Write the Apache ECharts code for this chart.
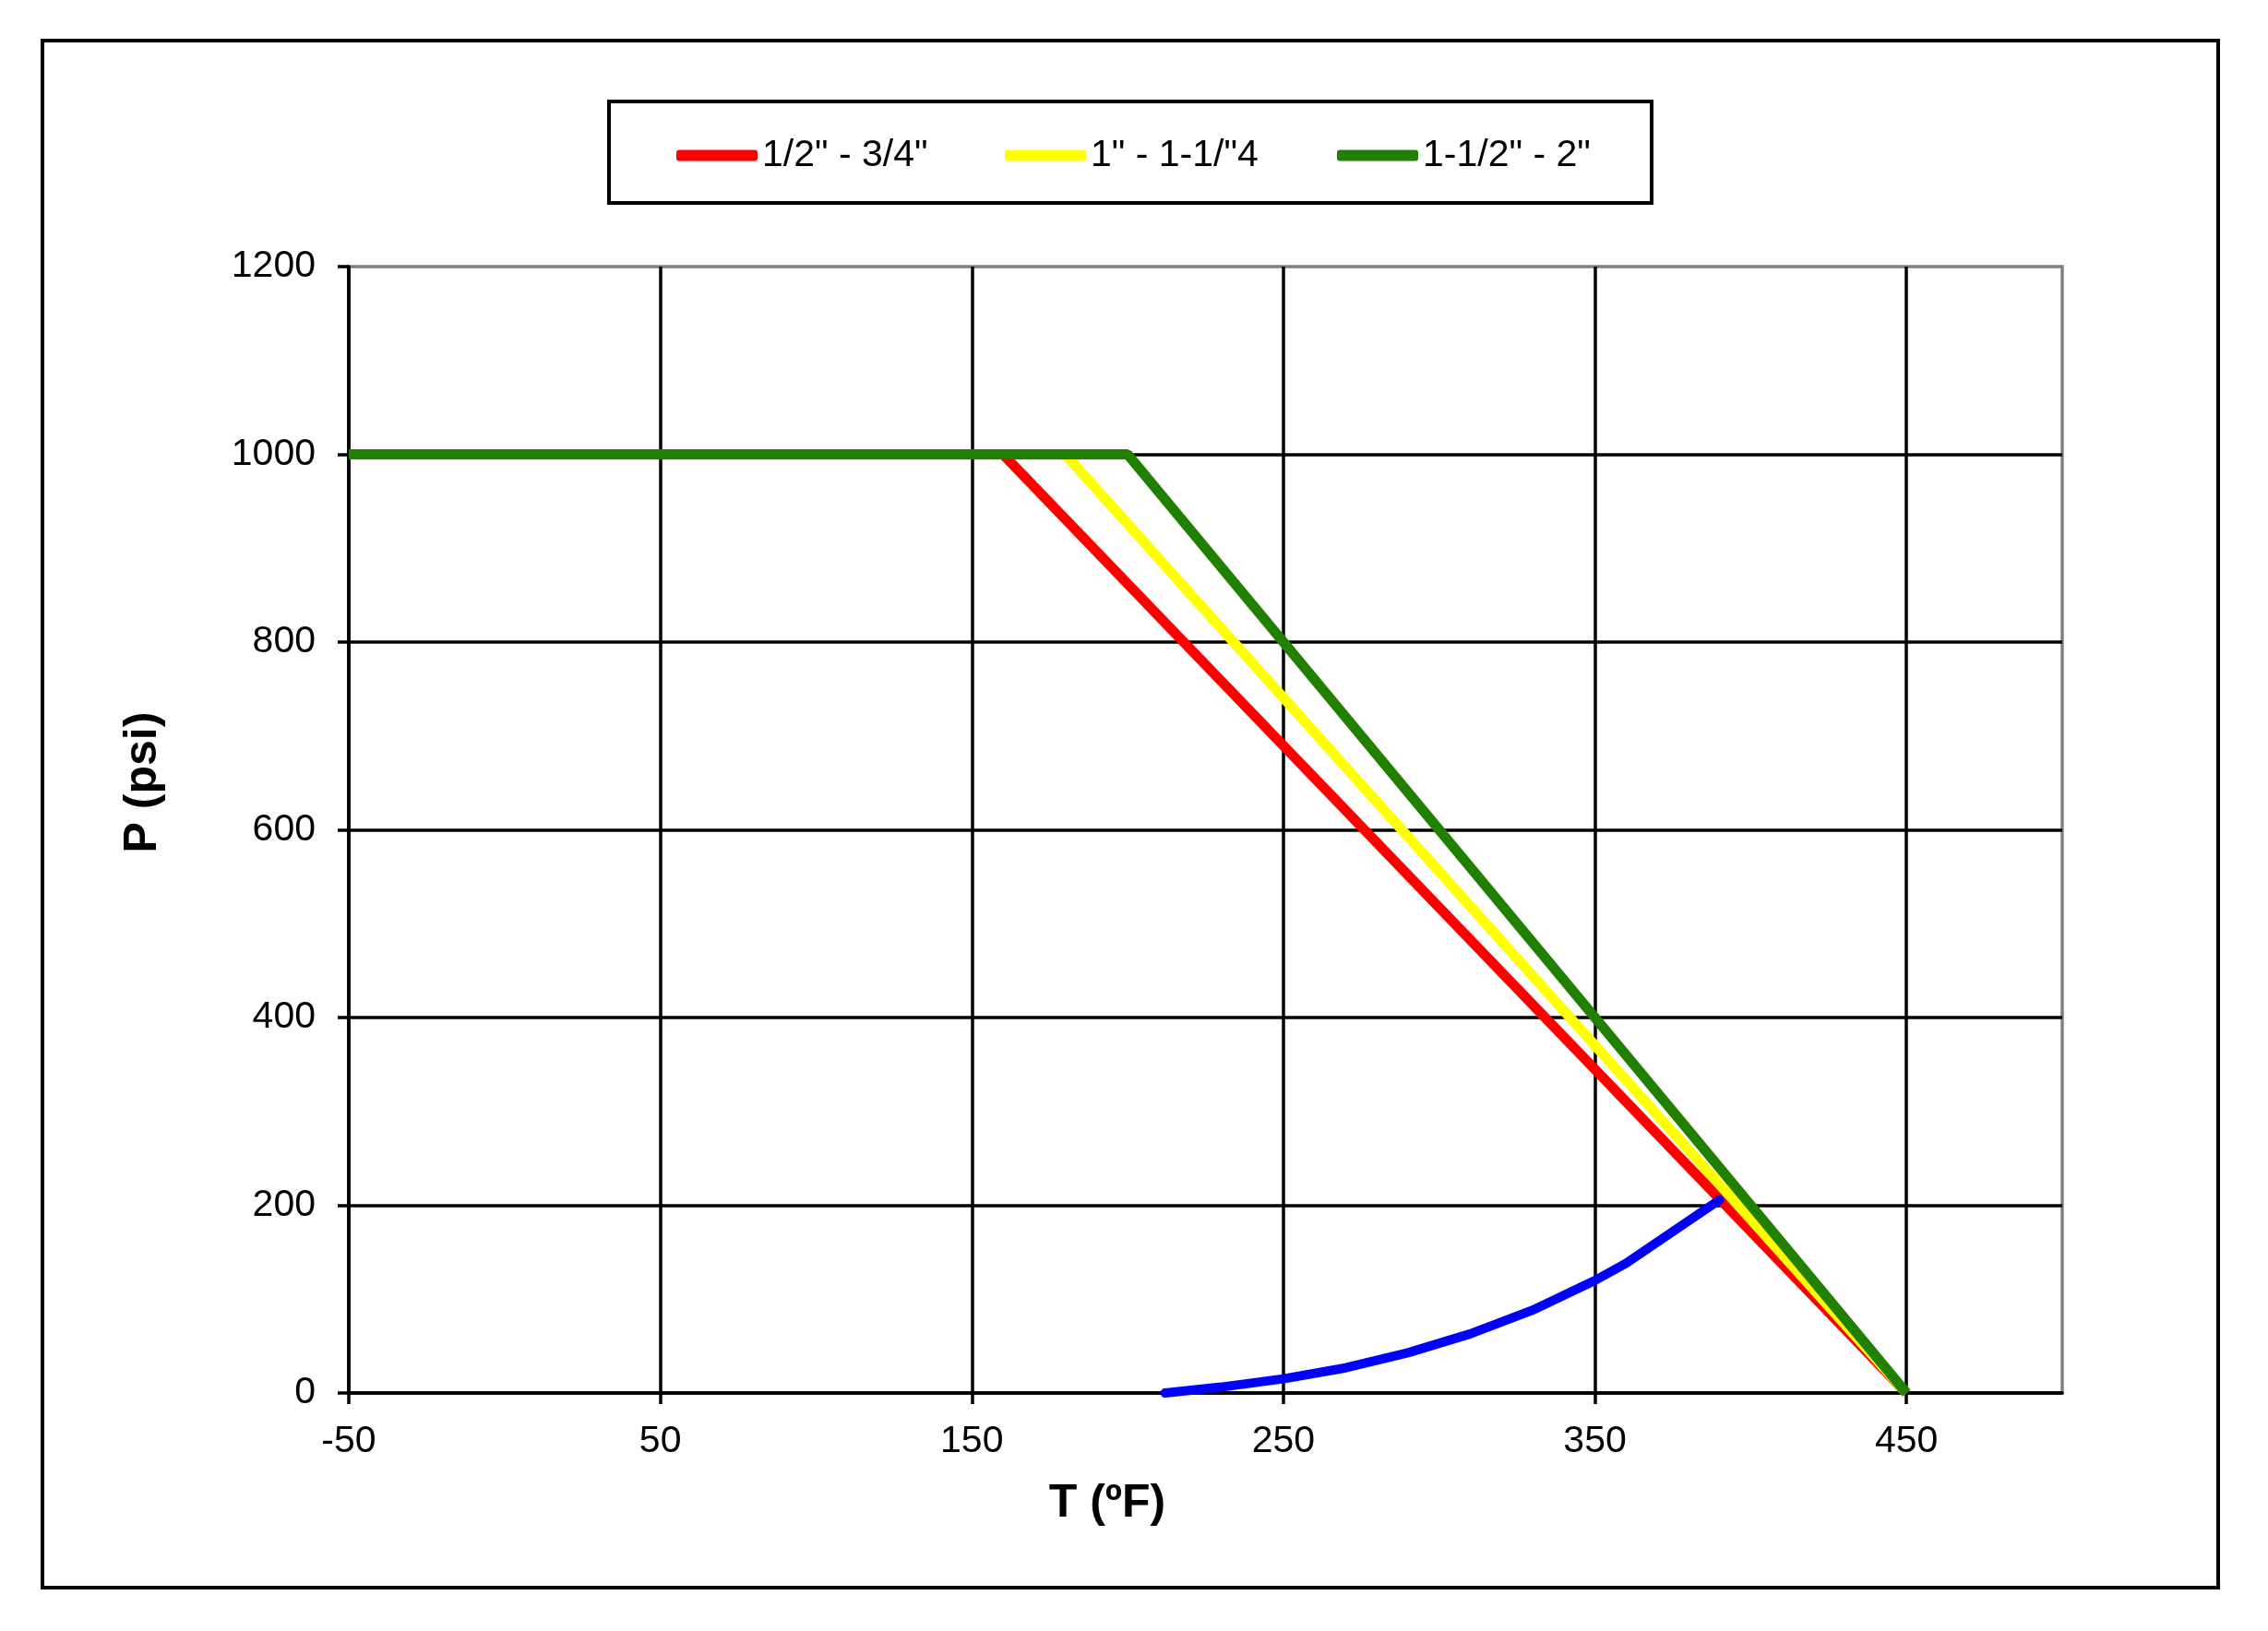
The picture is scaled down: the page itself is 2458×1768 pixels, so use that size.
<!DOCTYPE html>
<html>
<head>
<meta charset="utf-8">
<script src="https://cdn.jsdelivr.net/npm/echarts@6/dist/echarts.min.js"></script>
<style>
html,body{margin:0;padding:0;background:#fff;}
#chart{width:2458px;height:1768px;}
</style>
</head>
<body>
<div id="chart"></div>
<script>
// ---- data ----
const seriesNames = ['1/2" - 3/4"', '1" - 1-1/"4', '1-1/2" - 2"'];
const redT = [-50, 160, 450];
const redP = [1000, 1000, 0];
const yellowT = [-50, 180, 450];
const yellowP = [1000, 1000, 0];
const greenT = [-50, 200, 450];
const greenP = [1000, 1000, 0];
const blueT = [212, 230, 250, 270, 290, 310, 330, 350, 360, 390];
const blueP = [0, 6.3, 15.1, 26.8, 42.9, 63, 88.3, 119.9, 138.3, 205.7];
const xTicks = [-50, 50, 150, 250, 350, 450];
const yTicks = [0, 200, 400, 600, 800, 1000, 1200];
const xTitle = 'T (ºF)';
const yTitle = 'P (psi)';

function pairs(xs, ys) { return xs.map((x, i) => [x, ys[i]]); }

const chart = echarts.init(document.getElementById('chart'));
const font = '"Liberation Sans", Arial, sans-serif';

function legendAt(name, left) {
  return {
    data: [name],
    left: left,
    top: 143,
    orient: 'horizontal',
    icon: 'roundRect',
    itemWidth: 88,
    itemHeight: 12,
    itemGap: 0,
    selectedMode: false,
    textStyle: { fontFamily: font, fontSize: 41, color: '#000', padding: [0, 0, 0, 0] }
  };
}

const option = {
  backgroundColor: '#fff',
  animation: false,
  graphic: [
    { type: 'rect', shape: { x: 46, y: 44, width: 2358, height: 1677 }, style: { fill: 'none', stroke: '#000', lineWidth: 4 }, z: -1 },
    { type: 'rect', shape: { x: 660, y: 110, width: 1130, height: 110 }, style: { fill: '#fff', stroke: '#000', lineWidth: 4 }, z: -1 },
    { type: 'text', x: 1200, y: 1630, style: { text: xTitle, font: 'bold 50px "Liberation Sans", Arial, sans-serif', fill: '#000', align: 'center', verticalAlign: 'middle' } },
    { type: 'text', x: 155, y: 848, rotation: Math.PI / 2, style: { text: yTitle, font: 'bold 50px "Liberation Sans", Arial, sans-serif', fill: '#000', align: 'center', verticalAlign: 'middle' } }
  ],
  legend: [
    legendAt(seriesNames[0], 728),
    legendAt(seriesNames[1], 1084),
    legendAt(seriesNames[2], 1444)
  ],
  grid: {
    left: 378, right: 223, top: 289, bottom: 258,
    show: true, borderColor: '#808080', borderWidth: 3.5, backgroundColor: 'transparent'
  },
  xAxis: {
    type: 'value', min: -50, max: 500,
    axisLine: { show: true, onZero: false, lineStyle: { color: '#000', width: 3.5 } },
    axisTick: { show: true, length: 12, lineStyle: { color: '#000', width: 3.5 }, customValues: xTicks },
    axisLabel: { customValues: xTicks, fontFamily: font, fontSize: 41, color: '#000', margin: 32 },
    splitLine: { show: true, lineStyle: { color: '#000', width: 3.5 } }
  },
  yAxis: {
    type: 'value', min: 0, max: 1200, interval: 200,
    axisLine: { show: true, onZero: false, lineStyle: { color: '#000', width: 3.5 } },
    axisTick: { show: true, length: 12, lineStyle: { color: '#000', width: 3.5 } },
    axisLabel: { fontFamily: font, fontSize: 41, color: '#000', margin: 36, formatter: v => String(v) },
    splitLine: { show: true, showMaxLine: false, lineStyle: { color: '#000', width: 3.5 } }
  },
  series: [
    { name: seriesNames[0], type: 'line', data: pairs(redT, redP), symbol: 'none', color: '#FF0000', lineStyle: { width: 11, color: '#FF0000' } },
    { name: seriesNames[1], type: 'line', data: pairs(yellowT, yellowP), symbol: 'none', color: '#FFFF00', lineStyle: { width: 11, color: '#FFFF00' } },
    { name: seriesNames[2], type: 'line', data: pairs(greenT, greenP), symbol: 'none', color: '#218000', lineStyle: { width: 11, color: '#218000' } },
    { name: 'steam', type: 'line', data: pairs(blueT, blueP), symbol: 'none', color: '#0000FF', lineStyle: { width: 10, color: '#0000FF', cap: 'round' } }
  ]
};
chart.setOption(option);
</script>
</body>
</html>
